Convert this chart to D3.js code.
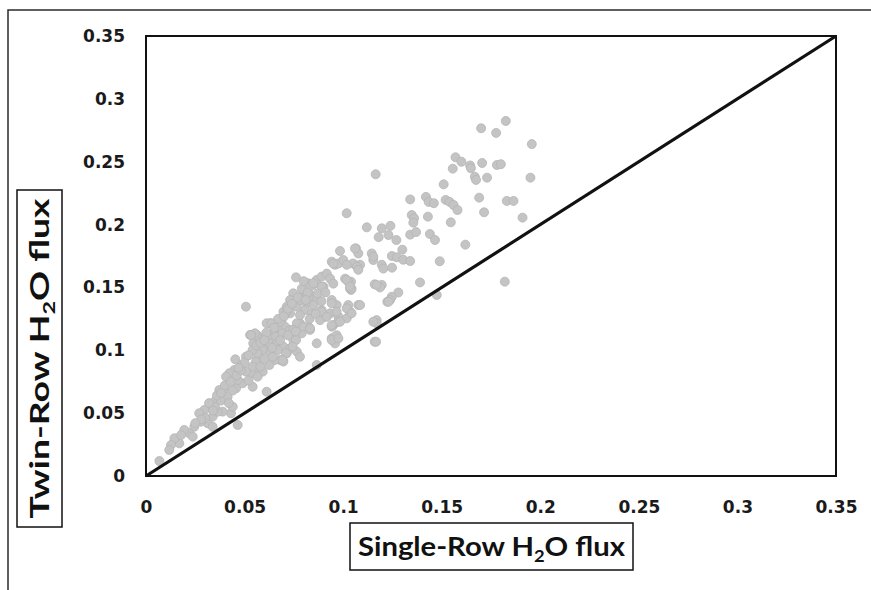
<!DOCTYPE html>
<html>
<head>
<meta charset="utf-8">
<script src="https://cdn.jsdelivr.net/npm/d3@7"></script>
<style>
  body { margin: 0; background: #fff; }
  svg { display: block; }
</style>
</head>
<body>
<svg id="chart" width="871" height="590"></svg>
<script>
// axis ticks (same on both axes)
const tickValues = [0, 0.05, 0.1, 0.15, 0.2, 0.25, 0.3, 0.35];
const tickLabels = ['0', '0.05', '0.1', '0.15', '0.2', '0.25', '0.3', '0.35'];

// axis titles: [before subscript, subscript, after]
const xTitle = ['Single-Row H', '2', 'O flux'];
const yTitle = ['Twin-Row H', '2', 'O flux'];

// [single-row flux, twin-row flux]
const fluxPairs = [
  // upper cloud
  [0.1825, 0.2824], [0.170, 0.2766], [0.1776, 0.2729], [0.1957, 0.264], [0.1165, 0.240],
  [0.157, 0.2535], [0.160, 0.250], [0.1556, 0.2445], [0.1644, 0.247], [0.1648, 0.2448],
  [0.1705, 0.249], [0.178, 0.2474], [0.180, 0.248], [0.1668, 0.238], [0.1674, 0.2355],
  [0.173, 0.2373], [0.195, 0.2373], [0.151, 0.232], [0.134, 0.220], [0.142, 0.222],
  [0.1434, 0.218], [0.146, 0.217], [0.152, 0.2196], [0.154, 0.218], [0.156, 0.2156],
  [0.158, 0.2116], [0.169, 0.2214], [0.183, 0.2188], [0.1864, 0.2188], [0.1715, 0.2098],
  [0.191, 0.2055], [0.143, 0.2063], [0.1348, 0.2076], [0.136, 0.205], [0.1356, 0.2015],
  [0.1546, 0.2018], [0.112, 0.1978], [0.1196, 0.197], [0.124, 0.199], [0.118, 0.190],
  [0.123, 0.1917], [0.127, 0.1877], [0.134, 0.192], [0.137, 0.194], [0.144, 0.1925],
  [0.1466, 0.1877], [0.162, 0.184], [0.1065, 0.181], [0.1077, 0.177], [0.130, 0.180],
  [0.1145, 0.177], [0.1153, 0.1718], [0.1196, 0.168], [0.1204, 0.165], [0.1247, 0.175],
  [0.1272, 0.174], [0.1305, 0.172], [0.134, 0.171], [0.1248, 0.1657], [0.149, 0.1708],
  [0.105, 0.169], [0.1086, 0.168], [0.139, 0.154], [0.116, 0.1525], [0.1196, 0.152],
  [0.128, 0.146], [0.1247, 0.1426], [0.182, 0.1546], [0.104, 0.1546], [0.104, 0.148],
  [0.1475, 0.144], [0.1018, 0.209], [0.0984, 0.179], [0.106, 0.181], [0.1153, 0.1745],
  // middle band
  [0.0761, 0.158], [0.0942, 0.1705], [0.0959, 0.168], [0.0976, 0.169], [0.1001, 0.1718],
  [0.1018, 0.168], [0.107, 0.1665], [0.1077, 0.164], [0.0866, 0.156], [0.0891, 0.1586],
  [0.0917, 0.161], [0.0934, 0.157], [0.095, 0.153], [0.0849, 0.152], [0.0823, 0.1533],
  [0.090, 0.1506], [0.101, 0.157], [0.1026, 0.1546], [0.1035, 0.149], [0.1187, 0.150],
  [0.117, 0.124], [0.1238, 0.140], [0.1224, 0.1386], [0.0798, 0.1466], [0.0832, 0.144],
  [0.0849, 0.140], [0.0815, 0.1374], [0.0781, 0.140], [0.0765, 0.1347], [0.0807, 0.132],
  [0.0841, 0.1294], [0.0942, 0.140], [0.0967, 0.136], [0.0934, 0.1294], [0.0976, 0.1267],
  [0.095, 0.120], [0.1026, 0.136], [0.1035, 0.1307], [0.1077, 0.136], [0.1018, 0.1254],
  [0.0891, 0.132], [0.0908, 0.1267], [0.0883, 0.124], [0.0976, 0.1227], [0.0942, 0.1188],
  [0.117, 0.1215], [0.116, 0.1068], [0.0942, 0.1095], [0.0967, 0.112], [0.0959, 0.1055],
  [0.0866, 0.1055], [0.0866, 0.0883], [0.1018, 0.156], [0.1043, 0.149], [0.0815, 0.1506],
  [0.0891, 0.1506], [0.095, 0.169], [0.1153, 0.1227], [0.1167, 0.1068], [0.1035, 0.1506],
  [0.117, 0.152], [0.123, 0.1386], [0.0942, 0.1374], [0.0967, 0.1307], [0.0984, 0.1227],
  [0.1018, 0.1334], [0.1043, 0.1294], [0.1086, 0.136], [0.0942, 0.120], [0.0942, 0.1082],
  [0.0976, 0.1095], [0.0866, 0.140], [0.0891, 0.1307], [0.0917, 0.1267],
  // dense lower band
  [0.0747, 0.1453], [0.0731, 0.140], [0.0714, 0.1347], [0.0697, 0.1307], [0.0731, 0.1294],
  [0.0688, 0.124], [0.0705, 0.1188], [0.0671, 0.1162], [0.0629, 0.1215], [0.0646, 0.1135],
  [0.062, 0.1108], [0.0587, 0.1095], [0.0562, 0.1122], [0.0544, 0.1055], [0.0595, 0.1042],
  [0.0629, 0.1055], [0.0663, 0.1055], [0.0697, 0.1029], [0.0731, 0.1016], [0.0765, 0.0989],
  [0.0781, 0.0949], [0.0714, 0.0976], [0.068, 0.0923], [0.0629, 0.0989], [0.0578, 0.0989],
  [0.0562, 0.0923], [0.0553, 0.0857], [0.0536, 0.0817], [0.0654, 0.0923], [0.0697, 0.091],
  [0.0731, 0.1162], [0.0781, 0.1215], [0.0832, 0.1162], [0.0747, 0.1082], [0.079, 0.1135],
  [0.0823, 0.1188], [0.0507, 0.1347], [0.0528, 0.1122], [0.0553, 0.1135], [0.0612, 0.1215],
  [0.0637, 0.1215], [0.068, 0.1227], [0.0714, 0.1307], [0.0781, 0.140], [0.0815, 0.1453],
  [0.0832, 0.1506], [0.0849, 0.1533], [0.0765, 0.1215], [0.0747, 0.1162], [0.0798, 0.1188],
  [0.0832, 0.1175], [0.0781, 0.128], [0.0533, 0.1122], [0.066, 0.1108], [0.0693, 0.1135],
  [0.0761, 0.1082], [0.0744, 0.1029], [0.071, 0.0976], [0.0693, 0.0923], [0.0668, 0.1002],
  [0.0643, 0.0949], [0.0626, 0.0883], [0.0592, 0.1002], [0.0566, 0.0976], [0.0541, 0.1002],
  [0.0507, 0.0949], [0.0453, 0.0928], [0.0592, 0.083], [0.0566, 0.079], [0.0612, 0.067],
  [0.0541, 0.071], [0.0558, 0.0909], [0.0541, 0.087], [0.0507, 0.083], [0.0457, 0.0698],
  [0.049, 0.0737], [0.0465, 0.0764], [0.0448, 0.0843], [0.0423, 0.0817], [0.0406, 0.079],
  [0.0482, 0.0880], [0.0520, 0.0760], [0.0580, 0.0870], [0.0600, 0.0930], [0.0500, 0.0900],
  [0.052, 0.096], [0.056, 0.104], [0.058, 0.106], [0.061, 0.114], [0.065, 0.118],
  [0.067, 0.125], [0.070, 0.127], [0.072, 0.133], [0.074, 0.137], [0.077, 0.142],
  [0.079, 0.149], [0.082, 0.146], [0.060, 0.108], [0.064, 0.102], [0.068, 0.108],
  [0.072, 0.112], [0.076, 0.115], [0.085, 0.136], [0.087, 0.145], [0.080, 0.155],
  [0.083, 0.125], [0.089, 0.139], [0.091, 0.146], [0.086, 0.129], [0.081, 0.140],
  // near origin
  [0.0465, 0.0406], [0.0431, 0.0499], [0.044, 0.0551], [0.0414, 0.0631], [0.0397, 0.0698],
  [0.0372, 0.0684], [0.0355, 0.0605], [0.0321, 0.0551], [0.0338, 0.0472], [0.0313, 0.0419],
  [0.0279, 0.0432], [0.0296, 0.0525], [0.027, 0.0499], [0.0245, 0.0392], [0.022, 0.034],
  [0.0194, 0.0366], [0.0169, 0.026], [0.0144, 0.030], [0.0127, 0.0247], [0.0118, 0.0207],
  [0.0068, 0.0119], [0.0389, 0.0512], [0.0364, 0.0512], [0.0338, 0.0392], [0.0237, 0.0313],
  [0.0178, 0.0326], [0.0300, 0.0460], [0.0350, 0.0550], [0.0380, 0.0600], [0.0420, 0.0580],
  [0.032, 0.058], [0.036, 0.064], [0.040, 0.072], [0.043, 0.075], [0.046, 0.080],
  [0.048, 0.084], [0.034, 0.052], [0.028, 0.045], [0.025, 0.042], [0.038, 0.066],
  [0.044, 0.068], [0.047, 0.086]
];

const svg = d3.select('#chart');
const plot = { left: 146, top: 36, right: 836, bottom: 476 };

const x = d3.scaleLinear().domain([0, 0.35]).range([plot.left, plot.right]);
const y = d3.scaleLinear().domain([0, 0.35]).range([plot.bottom, plot.top]);

// outer frame (cut by the picture edges)
svg.append('path')
  .attr('d', 'M8,590 V10 H871')
  .attr('fill', 'none')
  .attr('stroke', '#2a2a2a')
  .attr('stroke-width', 1.5);

// points
svg.append('g')
  .selectAll('circle')
  .data(fluxPairs)
  .join('circle')
  .attr('cx', d => x(d[0]))
  .attr('cy', d => y(d[1]))
  .attr('r', 4.5)
  .attr('fill', '#c4c4c4')
  .attr('stroke', '#b5b5b5')
  .attr('stroke-width', 0.8);

// 1:1 line
svg.append('line')
  .attr('x1', x(0)).attr('y1', y(0))
  .attr('x2', x(0.35)).attr('y2', y(0.35))
  .attr('stroke', '#111')
  .attr('stroke-width', 3.2);

// plot border
svg.append('rect')
  .attr('x', plot.left).attr('y', plot.top)
  .attr('width', plot.right - plot.left)
  .attr('height', plot.bottom - plot.top)
  .attr('fill', 'none')
  .attr('stroke', '#111')
  .attr('stroke-width', 2);

// axes
const tickFmt = (d, i) => tickLabels[i];

const gx = svg.append('g')
  .attr('transform', `translate(0,${plot.bottom})`)
  .call(d3.axisBottom(x).tickValues(tickValues).tickFormat(tickFmt).tickSize(0).tickPadding(25));

const gy = svg.append('g')
  .attr('transform', `translate(${plot.left},0)`)
  .call(d3.axisLeft(y).tickValues(tickValues).tickFormat(tickFmt).tickSize(0).tickPadding(21));

[gx, gy].forEach(g => {
  g.select('.domain').remove();
  g.selectAll('text')
    .attr('font-family', 'DejaVu Sans, Verdana, sans-serif')
    .attr('font-weight', 'bold')
    .attr('font-size', 17)
    .attr('fill', '#1a1a1a');
});

// boxed axis title
function boxedTitle(parts, cx, cy, rotate, width) {
  const g = svg.append('g')
    .attr('transform', `translate(${cx},${cy}) rotate(${rotate})`);
  const t = g.append('text')
    .attr('text-anchor', 'middle')
    .attr('y', 9)
    .attr('font-family', 'Lato, Open Sans, sans-serif')
    .attr('font-weight', 'bold')
    .attr('font-size', 27)
    .attr('fill', '#111')
    .attr('textLength', width)
    .attr('lengthAdjust', 'spacingAndGlyphs');
  t.append('tspan').text(parts[0]);
  t.append('tspan').attr('font-size', 17).attr('dy', 6).text(parts[1]);
  t.append('tspan').attr('dy', -6).text(parts[2]);
  return g;
}

boxedTitle(xTitle, 491.5, 546.5, 0, 267);
svg.append('rect')
  .attr('x', 350).attr('y', 523).attr('width', 283).attr('height', 47)
  .attr('fill', 'none').attr('stroke', '#111').attr('stroke-width', 1.5);

boxedTitle(yTitle, 39.5, 358.5, -90, 320);
svg.append('rect')
  .attr('x', 17).attr('y', 190).attr('width', 45).attr('height', 337)
  .attr('fill', 'none').attr('stroke', '#111').attr('stroke-width', 1.5);
</script>
</body>
</html>
